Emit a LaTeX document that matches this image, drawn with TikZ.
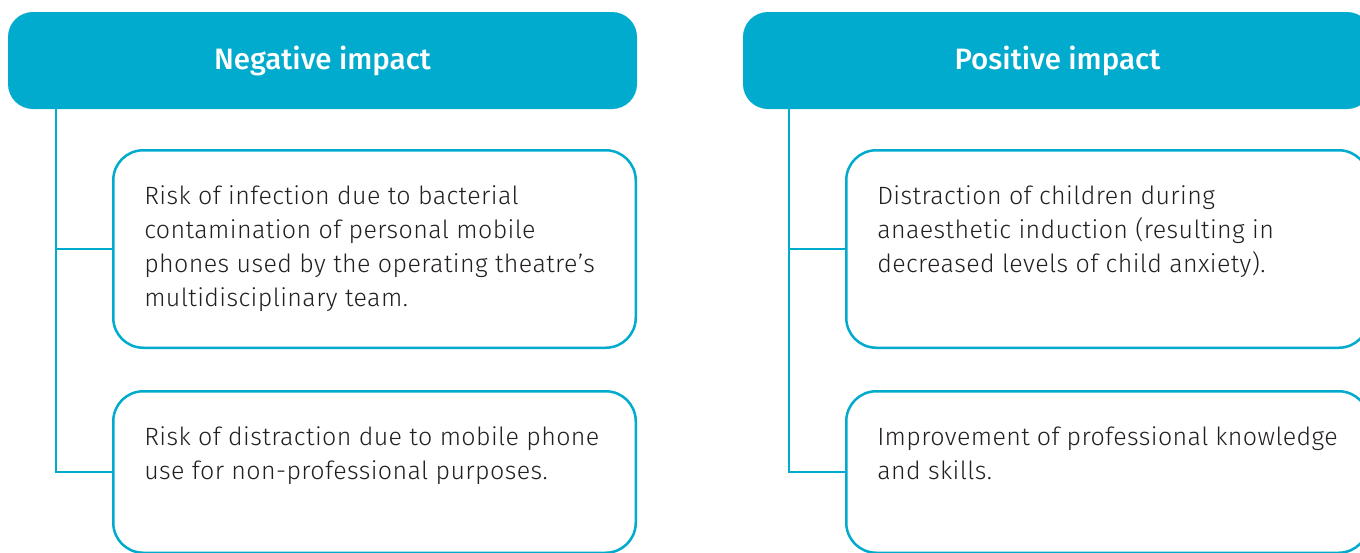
\documentclass[tikz,border=0pt]{standalone}
\usepackage{fontspec}
\setmainfont{Fira Sans}
\newfontfamily\firalight{Fira Sans Light}[LetterSpace=1.6]
\newfontfamily\firamedium{Fira Sans Medium}
\usepackage{tikz}
\usetikzlibrary{positioning}

\definecolor{brand}{RGB}{0,171,206}
\definecolor{ink}{RGB}{35,31,32}

% top-aligned cell text: #1 height, #2 lines
\newcommand\celltext[2]{\parbox[t][#1][t]{460.5pt}{\raggedright #2}}

\tikzset{
  head/.style={fill=brand, rounded corners=25pt, minimum width=629pt,
    minimum height=97pt, text=white, inner sep=0pt,
    font=\firamedium\fontsize{29.5}{32}\selectfont},
  item/.style={draw=brand, line width=2.5pt, rounded corners=30pt, fill=white,
    inner xsep=31pt, inner ysep=35.5pt, anchor=north west, text=ink,
    font=\firalight\fontsize{25}{34}\selectfont},
  link/.style={draw=brand, line width=2.5pt}
}

\begin{document}
\begin{tikzpicture}[x=1pt,y=-1pt]
\useasboundingbox (0,0) rectangle (1360,552);
\clip (0,0) rectangle (1360,552);

% negative side
\node[head] (neghead) at (322.5,60.5) {Negative impact};
\node[item] (negA) at (112,149) {\celltext{126.5pt}{Risk of infection due to bacterial\\
  contamination of personal mobile\\
  phones used by the operating theatre’s\\
  multidisciplinary team.}};
\node[item] (negB) at (112,390) {\celltext{90.5pt}{Risk of distraction due to mobile phone\\
  use for non-professional purposes.}};
\coordinate (negroot) at ([xshift=48pt]neghead.south west);
\draw[link] (negroot) |- (negB.west);
\draw[link] (negroot |- negA.west) -- (negA.west);

% positive side
\node[head] (poshead) at (1057.5,60.5) {Positive impact};
\node[item] (posA) at (845,149) {\celltext{126.5pt}{Distraction of children during\\
  anaesthetic induction (resulting in\\
  decreased levels of child anxiety).}};
\node[item] (posB) at (845,390) {\celltext{90.5pt}{Improvement of professional knowledge\\
  and skills.}};
\coordinate (posroot) at ([xshift=46pt]poshead.south west);
\draw[link] (posroot) |- (posB.west);
\draw[link] (posroot |- posA.west) -- (posA.west);
\end{tikzpicture}
\end{document}
